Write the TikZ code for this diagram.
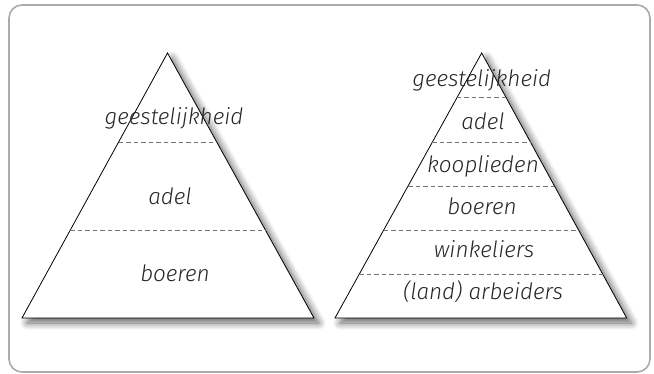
\documentclass[tikz,border=0pt]{standalone}
\usepackage{fontspec}
\setmainfont{Fira Sans}[UprightFont=* Light, ItalicFont=* Light Italic]
\usetikzlibrary{shadows.blur,calc}
\begin{document}
\begin{tikzpicture}[x=1pt,y=-1pt,
  frame/.style={draw=black!33, line width=1.6pt, rounded corners=13pt},
  pyr/.style={draw=black, line width=0.8pt, fill=white, line join=miter,
    blur shadow={shadow xshift=5pt, shadow yshift=-5pt, shadow blur steps=10, shadow opacity=60, shadow blur radius=7pt}},
  sep/.style={draw=black!55, line width=0.6pt, dash pattern=on 4.5pt off 3pt},
  lab/.style={anchor=base, inner sep=0pt, font=\fontsize{22.5}{26}\selectfont\itshape, text=black!85}]
\useasboundingbox (0,0) rectangle (654,374);
\draw[frame] (9,5) rectangle (650,372);
% left pyramid
\coordinate (LA) at (167.5,53);
\coordinate (LL) at (22,318);
\coordinate (LR) at (314,318);
\path[pyr] (LA) -- (LL) -- (LR) -- cycle;
\foreach \t in {0.336,0.668}{
  \draw[sep] ($(LA)!\t!(LL)$) -- ($(LA)!\t!(LR)$);
}
\node[lab] (l1) at (174,125) {geestelijkheid};
\node[lab] (l2) at (170,205) {adel};
\node[lab] (l3) at (175,282) {boeren};
% right pyramid
\coordinate (RA) at (481.7,53);
\coordinate (RL) at (335,318);
\coordinate (RR) at (626.7,318);
\path[pyr] (RA) -- (RL) -- (RR) -- cycle;
\foreach \t in {0.169,0.336,0.502,0.668,0.835}{
  \draw[sep] ($(RA)!\t!(RL)$) -- ($(RA)!\t!(RR)$);
}
\node[lab] (r1) at (481.7,87) {geestelijkheid};
\node[lab] (r2) at (483,130) {adel};
\node[lab] (r3) at (483,173) {kooplieden};
\node[lab] (r4) at (482,215) {boeren};
\node[lab] (r5) at (484,258) {winkeliers};
\node[lab] (r6) at (483,300) {(land) arbeiders};
\end{tikzpicture}
\end{document}
